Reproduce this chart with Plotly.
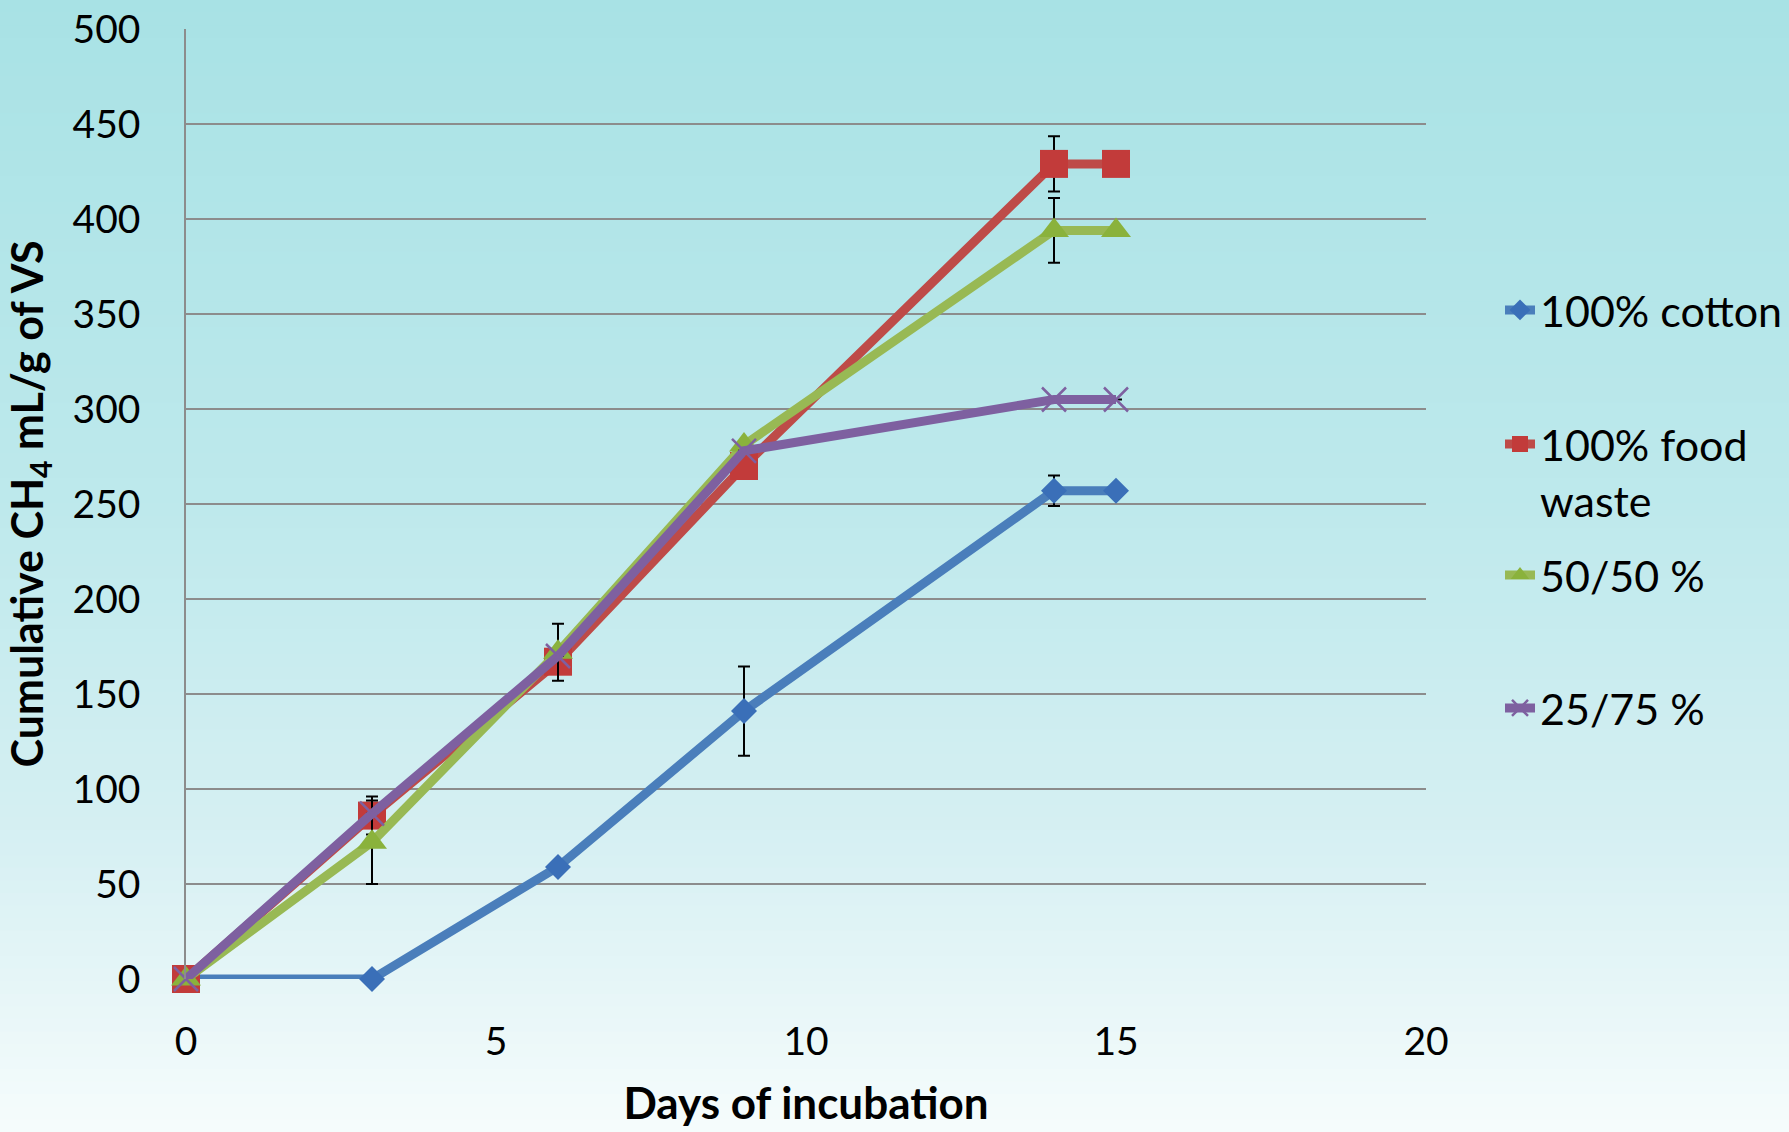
import plotly.graph_objects as go

# Sampling days
days = [0, 3, 6, 9, 14, 15]

# Cumulative methane yield (mL CH4 per g VS)
cotton = [0, 0, 59, 141, 257, 257]
food_waste = [0, 86, 167, 270, 429, 429]
mix_50_50 = [0, 72, 172, 281, 394, 394]
mix_25_75 = [0, 87, 170, 278, 305, 305]

# Standard deviations (None = no error bar shown)
cotton_err = [None, None, None, 23.5, 8, None]
food_waste_err = [None, 10, None, None, 14.5, None]
mix_50_50_err = [None, 22, 15, None, 17, None]
mix_25_75_err = [None, None, None, None, None, None]

series_names = ["100% cotton", "100% food<br>waste", "50/50 %", "25/75 %"]
x_ticks = [0, 5, 10, 15, 20]
y_ticks = [0, 50, 100, 150, 200, 250, 300, 350, 400, 450, 500]

W, H = 1789, 1132
M_L, M_R, M_T, M_B = 186, 363, 29, 153

FONT = "Lato"

styles = [
    dict(line="#4a7ebb", marker="#3a6fb8", symbol="diamond", size=20),
    dict(line="#be4b48", marker="#c23b3a", symbol="square", size=28),
    dict(line="#98b954", marker="#8ab23c", symbol="triangle-up", size=26),
    dict(line="#7e60a0", marker="#7e60a0", symbol="x-thin", size=24),
]
values = [cotton, food_waste, mix_50_50, mix_25_75]
errors = [cotton_err, food_waste_err, mix_50_50_err, mix_25_75_err]
legend_ids = ["legend", "legend2", "legend3", "legend4"]

fig = go.Figure()
for name, vals, errs, st, lg in zip(series_names, values, errors, styles, legend_ids):
    marker = dict(symbol=st["symbol"], size=st["size"], color=st["marker"])
    if st["symbol"] == "x-thin":
        marker["line"] = dict(color=st["marker"], width=2.5)
    else:
        marker["line"] = dict(width=0)
    fig.add_trace(go.Scatter(
        x=days, y=vals, name=name, mode="lines+markers",
        line=dict(color=st["line"], width=9),
        marker=marker,
        error_y=dict(type="data", array=errs, visible=True,
                     color="#000000", thickness=2, width=6),
        cliponaxis=False,
        legend=lg,
    ))

# Vertical background gradient (teal at the top fading to near white)
def lerp(c1, c2, t):
    return tuple(round(a + (b - a) * t) for a, b in zip(c1, c2))

stops = [(0.0, (168, 226, 229)), (0.45, (190, 233, 236)), (0.75, (215, 240, 243)), (1.0, (246, 252, 252))]
n = 90
x0p, x1p = -M_L / (W - M_L - M_R), 1 + M_R / (W - M_L - M_R)
ph = H - M_T - M_B
shapes = []
for i in range(n):
    t = (i + 0.5) / n
    for (a, ca), (b, cb) in zip(stops[:-1], stops[1:]):
        if a <= t <= b:
            c = lerp(ca, cb, (t - a) / (b - a))
            break
    ytop_px = i * H / n
    ybot_px = (i + 1) * H / n + 1
    y_top = 1 - (ytop_px - M_T) / ph
    y_bot = 1 - (ybot_px - M_T) / ph
    shapes.append(dict(type="rect", xref="paper", yref="paper", x0=x0p, x1=x1p,
                       y0=y_bot, y1=y_top, line=dict(width=0),
                       fillcolor="rgb(%d,%d,%d)" % c, layer="below"))

legend_common = dict(xref="container", yref="container", xanchor="left",
                     yanchor="middle", bgcolor="rgba(0,0,0,0)", borderwidth=0,
                     font=dict(family=FONT, size=43, color="#000000"),
                     itemsizing="trace")
lx = (1542 - 42) / W
fig.update_layout(
    width=W, height=H,
    margin=dict(l=M_L, r=M_R, t=M_T, b=M_B, autoexpand=False),
    paper_bgcolor="#e9f7f8",
    plot_bgcolor="rgba(0,0,0,0)",
    shapes=shapes,
    showlegend=True,
    legend=dict(x=lx, y=1 - 310 / H, **legend_common),
    legend2=dict(x=lx, y=1 - 472 / H, valign="top", **legend_common),
    legend3=dict(x=lx, y=1 - 575 / H, **legend_common),
    legend4=dict(x=lx, y=1 - 708 / H, **legend_common),
    xaxis=dict(
        range=[0, 20], tickvals=x_ticks, ticktext=[str(v) for v in x_ticks],
        showgrid=False, zeroline=False, showline=False, ticks="",
        ticklabelstandoff=36,
        tickfont=dict(family=FONT, size=39, color="#000000"),
        title=dict(text="<b>Days of incubation</b>", standoff=26,
                   font=dict(family=FONT, size=44, color="#000000")),
    ),
    yaxis=dict(
        range=[0, 500], tickvals=y_ticks, ticktext=[str(v) for v in y_ticks],
        showgrid=True, gridcolor="#8c8c8c", gridwidth=2,
        zeroline=False, showline=True, linecolor="#8c8c8c", linewidth=1.5,
        ticks="", ticklabelstandoff=36,
        tickfont=dict(family=FONT, size=39, color="#000000"),
        title=dict(text="<b>Cumulative CH<sub>4</sub> mL/g of VS</b>", standoff=16,
                   font=dict(family=FONT, size=43, color="#000000")),
    ),
)

fig.write_html("out.html")
